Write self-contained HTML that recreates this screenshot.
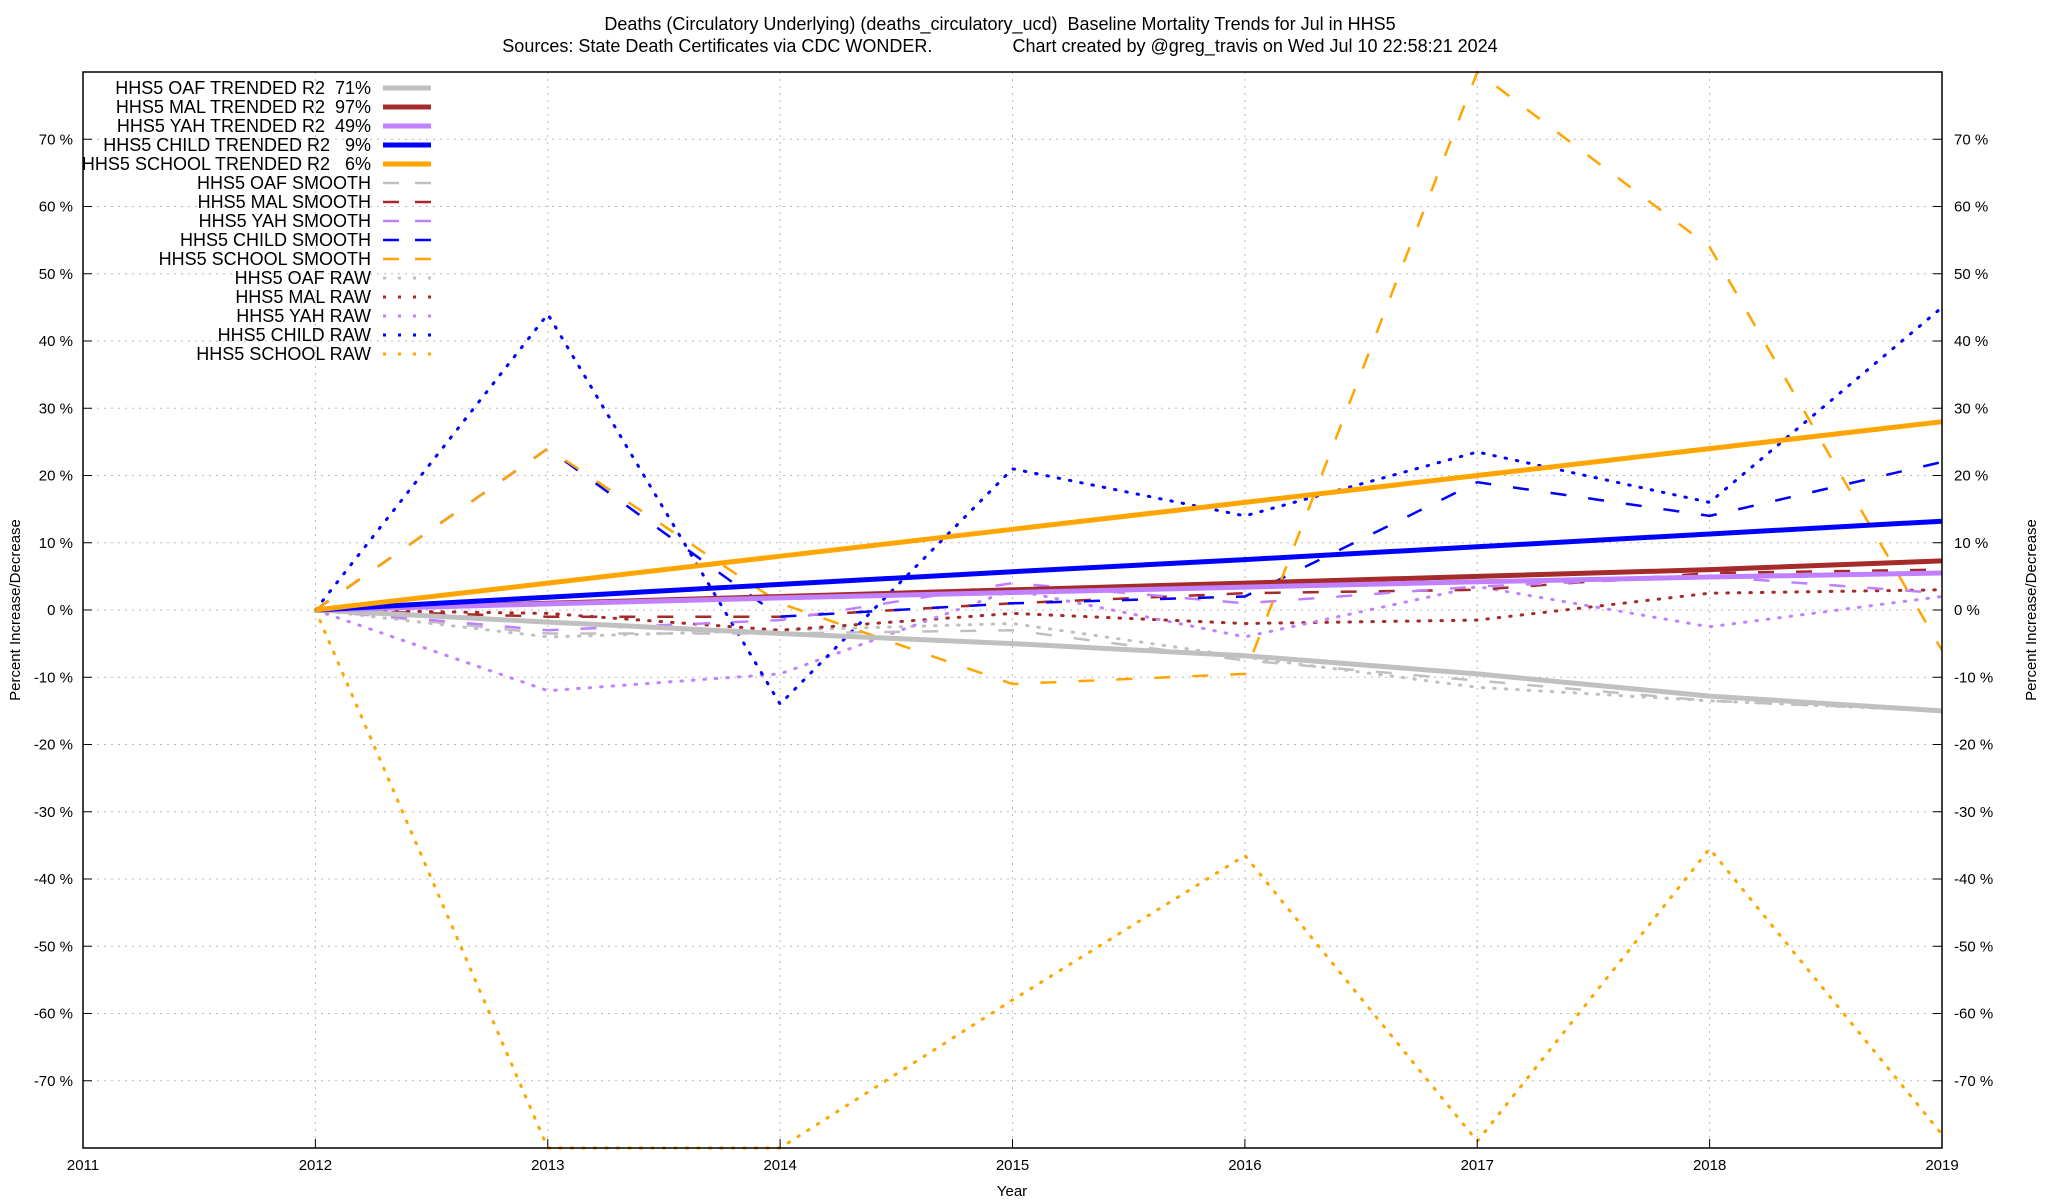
<!DOCTYPE html>
<html><head><meta charset="utf-8"><style>
html,body{margin:0;padding:0;background:#fff}
svg{display:block;font-family:"Liberation Sans",Arial,sans-serif}
.pre{white-space:pre}
</style></head><body>
<svg id="chart" width="2048" height="1200" viewBox="0 0 2048 1200" xmlns="http://www.w3.org/2000/svg">
<text x="1000" y="30" font-size="18" text-anchor="middle" class="pre">Deaths (Circulatory Underlying) (deaths_circulatory_ucd)  Baseline Mortality Trends for Jul in HHS5</text>
<text x="1000" y="52" font-size="18" text-anchor="middle" class="pre">Sources: State Death Certificates via CDC WONDER.                Chart created by @greg_travis on Wed Jul 10 22:58:21 2024</text>
<text transform="translate(20,610) rotate(-90)" font-size="15" text-anchor="middle">Percent Increase/Decrease</text>
<text transform="translate(2036,610) rotate(-90)" font-size="15" text-anchor="middle">Percent Increase/Decrease</text>
<text x="1012" y="1196" font-size="15" text-anchor="middle">Year</text>
<defs><clipPath id="clip"><rect x="83" y="70" width="1859" height="1080"/></clipPath></defs>
<g id="grid"></g><g id="series" clip-path="url(#clip)"></g><g id="axes"></g><g id="legend"></g>
</svg>
<script>
const years=[2012,2013,2014,2015,2016,2017,2018,2019];
const xTicks=[2011,2012,2013,2014,2015,2016,2017,2018,2019];
const yTicks=[-70,-60,-50,-40,-30,-20,-10,0,10,20,30,40,50,60,70];
const oafTrend=[0,-1.8,-3.5,-5,-6.8,-9.5,-12.8,-15];
const malTrend=[0,1,2,3,4,5,6,7.3];
const yahTrend=[0,0.9,1.8,2.6,3.4,4.2,4.9,5.5];
const childTrend=[0,1.9,3.8,5.7,7.5,9.4,11.3,13.2];
const schoolTrend=[0,4,8,12,16,20,24,28];
const oafSmooth=[0,-3.5,-3.5,-3,-7.5,-10.5,-13.5,-15];
const malSmooth=[0,-1,-1,1,2.5,3,5.5,6];
const yahSmooth=[0,-3,-1.5,4,1,3.5,5,2.5];
const childSmooth=[0,24,-1,1,2,19,14,22];
const schoolSmooth=[0,24,1,-11,-9.5,80,54,-6];
const oafRaw=[0,-4,-3,-2,-7,-11.5,-13.5,-15];
const malRaw=[0,-0.5,-3,-0.5,-2,-1.5,2.5,3];
const yahRaw=[0,-12,-9.5,3,-4,3.5,-2.5,2];
const childRaw=[0,44,-14,21,14,23.5,16,45];
const schoolRaw=[0,-80,-80,-58,-36.5,-79,-35.5,-78];
const seriesNames=["HHS5 OAF TRENDED R2  71%","HHS5 MAL TRENDED R2  97%","HHS5 YAH TRENDED R2  49%","HHS5 CHILD TRENDED R2   9%","HHS5 SCHOOL TRENDED R2   6%","HHS5 OAF SMOOTH","HHS5 MAL SMOOTH","HHS5 YAH SMOOTH","HHS5 CHILD SMOOTH","HHS5 SCHOOL SMOOTH","HHS5 OAF RAW","HHS5 MAL RAW","HHS5 YAH RAW","HHS5 CHILD RAW","HHS5 SCHOOL RAW"];

const NS="http://www.w3.org/2000/svg";
const L=83,R=1942,T=72,B=1148;
const xs=v=>L+(v-2011)*(R-L)/8;
const ys=v=>B-(v+80)*(B-T)/160;
function mk(tag,attrs,parent){const e=document.createElementNS(NS,tag);for(const k in attrs)e.setAttribute(k,attrs[k]);parent.appendChild(e);return e;}
const grid=document.getElementById('grid'),axes=document.getElementById('axes'),ser=document.getElementById('series'),leg=document.getElementById('legend');

yTicks.forEach(v=>{
  const g=mk('line',{x1:L,x2:R,y1:ys(v),y2:ys(v),stroke:'#bbb','stroke-width':1,'stroke-dasharray':'2,5'},grid);
  
  
  const t1=mk('line',{x1:L,x2:L+9,y1:ys(v),y2:ys(v),stroke:'#000'},axes);
  
  
  const t2=mk('line',{x1:R-9,x2:R,y1:ys(v),y2:ys(v),stroke:'#000'},axes);
  
  
  const a=mk('text',{x:L-10,y:ys(v)+5,'font-size':15,'text-anchor':'end'},axes);a.textContent=v+' %';
  
  
  const b=mk('text',{x:R+12,y:ys(v)+5,'font-size':15},axes);b.textContent=v+' %';
  
  
});
xTicks.forEach(v=>{
  const g=mk('line',{x1:xs(v),x2:xs(v),y1:T,y2:B,stroke:'#bbb','stroke-width':1,'stroke-dasharray':'2,5'},grid);
  
  
  const t=mk('line',{x1:xs(v),x2:xs(v),y1:B-9,y2:B,stroke:'#000'},axes);
  
  
  const a=mk('text',{x:xs(v),y:B+22,'font-size':15,'text-anchor':'middle'},axes);a.textContent=v;
  
  
});
const frame=mk('rect',{x:L,y:T,width:R-L,height:B-T,fill:'none',stroke:'#000','stroke-width':1.5},axes);



const cols={oaf:'#c0c0c0',mal:'#a52a2a',yah:'#c080ff',child:'#0000ff',school:'#ffa500'};
const styles={trend:{w:5,d:null},smooth:{w:2.5,d:'16,22'},raw:{w:3,d:'1.5,10'}};
const specs=[
 ['oaf','trend',oafTrend],['mal','trend',malTrend],['yah','trend',yahTrend],['child','trend',childTrend],['school','trend',schoolTrend],
 ['oaf','smooth',oafSmooth],['mal','smooth',malSmooth],['yah','smooth',yahSmooth],['child','smooth',childSmooth],['school','smooth',schoolSmooth],
 ['oaf','raw',oafRaw],['mal','raw',malRaw],['yah','raw',yahRaw],['child','raw',childRaw],['school','raw',schoolRaw]];
[10,11,12,13,14,5,6,7,8,9,0,1,2,3,4].forEach(i=>{
  const [c,k,arr]=specs[i];const st=styles[k];
  const d=arr.map((v,j)=>(j?'L':'M')+xs(years[j]).toFixed(1)+','+ys(v).toFixed(1)).join(' ');
  const a={d:d,fill:'none',stroke:cols[c],'stroke-width':st.w,'stroke-linejoin':'round','stroke-linecap':k==='raw'?'round':'butt'};
  if(st.d)a['stroke-dasharray']=st.d;
  const p=mk('path',a,ser);
  
  
});
seriesNames.forEach((n,i)=>{
  const y=88+i*19;const [c,k]=specs[i];const st=styles[k];
  const t=mk('text',{x:371,y:y+6,'font-size':18,'text-anchor':'end','class':'pre'},leg);t.textContent=n;
  
  
  const a={x1:383,x2:431,y1:y,y2:y,stroke:cols[c],'stroke-width':st.w};
  if(k==='smooth')a['stroke-dasharray']='16,16';
  if(k==='raw'){a['stroke-dasharray']='3,12';a['stroke-width']=3;}
  const s=mk('line',a,leg);
  
  
});
</script>
</body></html>
